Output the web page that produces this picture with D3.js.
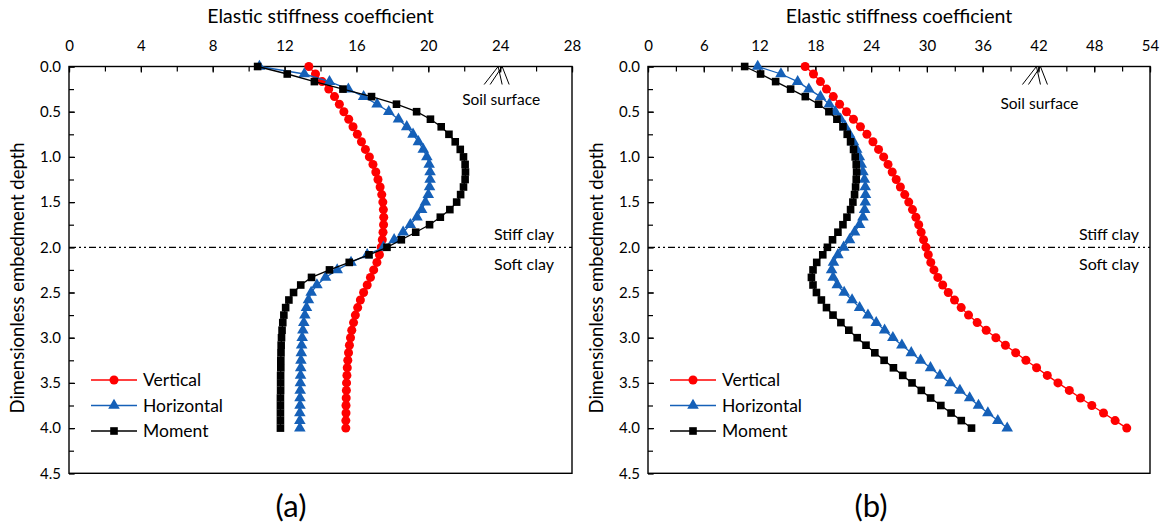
<html>
<head>
<style>
  body { margin: 0; background: #fff; }
  text { font-family: Lato, "Open Sans", sans-serif; fill: #000; }
</style>
<script src="https://d3js.org/d3.v7.min.js"></script>
</head>
<body>
<svg id="chart" width="1166" height="524"></svg>
<script>
// depth (dimensionless), one value per pile segment
const depth = [0, 0.083, 0.167, 0.25, 0.333, 0.417, 0.5, 0.583, 0.667, 0.75, 0.833, 0.917,
  1.0, 1.083, 1.167, 1.25, 1.333, 1.417, 1.5, 1.583, 1.667, 1.75, 1.833, 1.917,
  2.0, 2.083, 2.167, 2.25, 2.333, 2.417, 2.5, 2.583, 2.667, 2.75, 2.833, 2.917,
  3.0, 3.083, 3.167, 3.25, 3.333, 3.417, 3.5, 3.583, 3.667, 3.75, 3.833, 3.917, 4.0];

// panel (a)
const vertA = [13.35, 13.72, 14.09, 14.46, 14.78, 15.05, 15.3, 15.57, 15.81, 16.05, 16.28, 16.5,
  16.72, 16.92, 17.08, 17.2, 17.32, 17.41, 17.47, 17.5, 17.52, 17.51, 17.48, 17.44,
  17.38, 17.28, 17.14, 16.96, 16.78, 16.6, 16.4, 16.22, 16.07, 15.94, 15.84, 15.74,
  15.67, 15.61, 15.56, 15.52, 15.49, 15.47, 15.45, 15.44, 15.43, 15.42, 15.42, 15.41, 15.41];
const horA = [10.6, 13.1, 14.5, 15.55, 16.4, 17.15, 17.8, 18.34, 18.8, 19.15, 19.45, 19.72,
  19.92, 20.05, 20.1, 20.1, 20.07, 20.0, 19.84, 19.63, 19.37, 19.0, 18.6, 18.1,
  17.5, 16.6, 15.7, 14.93, 14.28, 13.8, 13.48, 13.33, 13.22, 13.13, 13.07, 13.02,
  12.98, 12.95, 12.93, 12.91, 12.9, 12.89, 12.88, 12.87, 12.86, 12.86, 12.85, 12.85, 12.85];
const momA = [10.5, 12.15, 13.66, 15.25, 16.84, 18.23, 19.35, 20.12, 20.72, 21.15, 21.5, 21.78,
  21.96, 22.05, 22.07, 22.05, 21.96, 21.8, 21.58, 21.2, 20.67, 20.07, 19.3, 18.5,
  17.7, 16.7, 15.6, 14.5, 13.5, 12.9, 12.5, 12.24, 12.06, 11.96, 11.9, 11.86,
  11.83, 11.81, 11.8, 11.79, 11.79, 11.78, 11.78, 11.78, 11.77, 11.77, 11.77, 11.77, 11.77];

// panel (b)
const vertB = [16.9, 17.8, 18.55, 19.2, 19.93, 20.61, 21.35, 22.1, 22.85, 23.55, 24.2, 24.8,
  25.35, 25.82, 26.27, 26.7, 27.15, 27.62, 28.05, 28.45, 28.82, 29.12, 29.38, 29.64,
  29.9, 30.15, 30.42, 30.76, 31.18, 31.7, 32.3, 32.97, 33.69, 34.48, 35.41, 36.38,
  37.42, 38.45, 39.55, 40.65, 41.8, 42.95, 44.1, 45.32, 46.52, 47.74, 49.0, 50.25, 51.5];
const horB = [11.8, 14.3, 16.1, 17.3, 18.55, 19.5, 20.14, 20.72, 21.22, 21.68, 22.1, 22.45,
  22.74, 22.94, 23.12, 23.28, 23.37, 23.4, 23.37, 23.3, 23.12, 22.76, 22.22, 21.68,
  21.05, 20.43, 19.95, 19.75, 19.92, 20.36, 21.1, 21.95, 22.76, 23.66, 24.55, 25.45,
  26.34, 27.31, 28.32, 29.32, 30.39, 31.4, 32.5, 33.55, 34.6, 35.55, 36.56, 37.63, 38.64];
const momB = [10.4, 12.11, 13.73, 15.34, 16.92, 18.35, 19.46, 20.32, 20.97, 21.43, 21.79, 22.11,
  22.29, 22.4, 22.44, 22.4, 22.33, 22.22, 22.04, 21.79, 21.4, 20.97, 20.43, 19.85,
  19.3, 18.8, 18.15, 17.75, 17.58, 17.75, 18.12, 18.65, 19.2, 19.9, 20.75, 21.6,
  22.5, 23.45, 24.4, 25.4, 26.4, 27.4, 28.4, 29.4, 30.4, 31.5, 32.6, 33.7, 34.8];

const seriesNames = ["Vertical", "Horizontal", "Moment"];
const seriesColors = ["#ff0000", "#1560b8", "#000000"];
const seriesSymbols = [d3.symbolCircle, d3.symbolTriangle, d3.symbolSquare];
const symbolSizes = [64, 58, 58];

const xTicksA = [0, 4, 8, 12, 16, 20, 24, 28];
const xTicksB = [0, 6, 12, 18, 24, 30, 36, 42, 48, 54];
const yTicks = [0, 0.5, 1.0, 1.5, 2.0, 2.5, 3.0, 3.5, 4.0, 4.5];

const svg = d3.select("#chart");
svg.append("rect").attr("width", 1166).attr("height", 524).attr("fill", "#fff");

function drawPanel(opt) {
  const top = 66.5, bottom = 473.3;
  const x = d3.scaleLinear().domain([0, opt.xMax]).range([opt.left, opt.right]);
  const y = d3.scaleLinear().domain([0, 4.5]).range([top, bottom]);
  const g = svg.append("g");

  // minor ticks
  const minorX = d3.range(0, opt.xMax + 0.01, opt.xStep / 2);
  g.append("g").attr("transform", `translate(0,${top})`)
    .call(d3.axisTop(x).tickValues(minorX).tickSize(-5).tickFormat(""))
    .call(a => a.select(".domain").remove());
  g.append("g").attr("transform", `translate(0,${top})`)
    .call(d3.axisTop(x).tickValues(opt.xTicks).tickSize(-6).tickPadding(16))
    .call(a => a.select(".domain").remove())
    .call(a => a.selectAll("text").style("font-size", "15px").style("font-family", "Lato"));

  const minorY = d3.range(0, 4.51, 0.25);
  g.append("g").attr("transform", `translate(${opt.left},0)`)
    .call(d3.axisLeft(y).tickValues(minorY).tickSize(-5).tickFormat(""))
    .call(a => a.select(".domain").remove());
  g.append("g").attr("transform", `translate(${opt.left},0)`)
    .call(d3.axisLeft(y).tickValues(yTicks).tickSize(-6).tickPadding(8).tickFormat(d3.format(".1f")))
    .call(a => a.select(".domain").remove())
    .call(a => a.selectAll("text").style("font-size", "15px").style("font-family", "Lato"));

  g.selectAll(".tick line").attr("stroke", "#000").attr("stroke-width", 1.2);

  // frame
  g.append("rect").attr("x", opt.left).attr("y", top)
    .attr("width", opt.right - opt.left).attr("height", bottom - top)
    .attr("fill", "none").attr("stroke", "#000").attr("stroke-width", 1.4);

  // layer boundary
  g.append("line").attr("x1", opt.left).attr("x2", opt.right)
    .attr("y1", y(2)).attr("y2", y(2))
    .attr("stroke", "#000").attr("stroke-width", 1.2)
    .attr("stroke-dasharray", "7,3,2,3,2,3");
  g.append("text").attr("x", opt.clayX).attr("y", y(2) - 7)
    .attr("text-anchor", "end").style("font-size", "16px").text("Stiff clay");
  g.append("text").attr("x", opt.clayX).attr("y", y(2) + 23)
    .attr("text-anchor", "end").style("font-size", "16px").text("Soft clay");

  // soil surface symbol
  const sx = x(opt.soilX);
  [[-2, -16], [2, -10], [-2, 2], [2, 9]].forEach(([a, b]) => {
    g.append("line").attr("x1", sx + a).attr("y1", top)
      .attr("x2", sx + b).attr("y2", top + 18)
      .attr("stroke", "#000").attr("stroke-width", 1);
  });
  g.append("text").attr("x", sx + 1).attr("y", opt.soilY)
    .attr("text-anchor", "middle").style("font-size", "15.5px").text("Soil surface");

  // series
  opt.series.forEach((vals, k) => {
    const pts = vals.map((v, i) => [x(v), y(depth[i])]);
    g.append("path").attr("d", d3.line()(pts))
      .attr("fill", "none").attr("stroke", seriesColors[k]).attr("stroke-width", 1.3);
    g.selectAll(null).data(pts).enter().append("path")
      .attr("transform", p => `translate(${p[0]},${p[1]})`)
      .attr("d", d3.symbol().type(seriesSymbols[k]).size(symbolSizes[k]))
      .attr("fill", seriesColors[k]);
  });

  // legend
  seriesNames.forEach((name, k) => {
    const ly = opt.legendY + k * 25.5;
    const lx = opt.legendX;
    g.append("line").attr("x1", lx).attr("x2", lx + 46).attr("y1", ly).attr("y2", ly)
      .attr("stroke", seriesColors[k]).attr("stroke-width", 1.3);
    g.append("path").attr("transform", `translate(${lx + 23},${ly})`)
      .attr("d", d3.symbol().type(seriesSymbols[k]).size(symbolSizes[k]))
      .attr("fill", seriesColors[k]);
    g.append("text").attr("x", lx + 52).attr("y", ly + 6)
      .style("font-size", "17.5px").text(name);
  });

  // titles
  g.append("text").attr("x", (opt.left + opt.right) / 2).attr("y", 23)
    .attr("text-anchor", "middle").style("font-size", "19.5px").text("Elastic stiffness coefficient");
  g.append("text").attr("transform", `translate(${opt.left - 45},${(top + bottom) / 2 + 8}) rotate(-90)`)
    .attr("text-anchor", "middle").style("font-size", "18.5px").text("Dimensionless embedment depth");
  g.append("text").attr("x", opt.tagX).attr("y", 517)
    .attr("text-anchor", "middle").style("font-size", "31px").text(opt.tag);
}

drawPanel({ left: 69, right: 572, xMax: 28, xStep: 4, xTicks: xTicksA, soilX: 24, soilY: 105,
  series: [vertA, horA, momA], legendX: 91, legendY: 380, tag: "(a)", tagX: 291, clayX: 554 });
drawPanel({ left: 648, right: 1150, xMax: 54, xStep: 6, xTicks: xTicksB, soilX: 42, soilY: 109,
  series: [vertB, horB, momB], legendX: 670, legendY: 380, tag: "(b)", tagX: 871, clayX: 1139 });
</script>
</body>
</html>
